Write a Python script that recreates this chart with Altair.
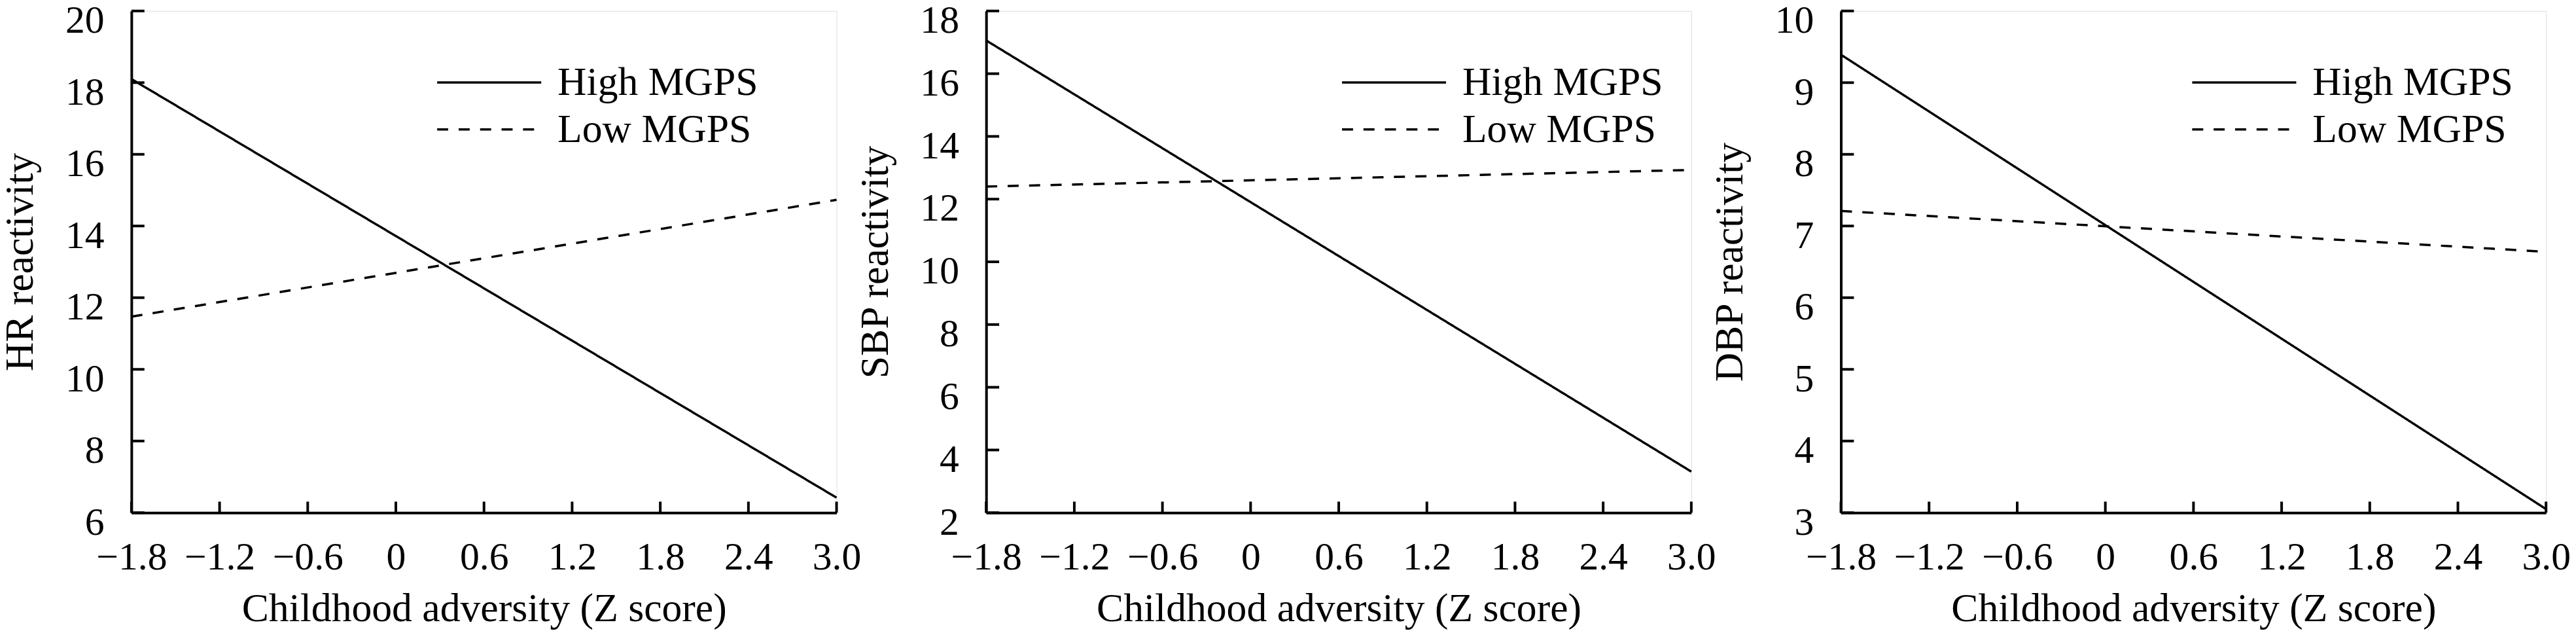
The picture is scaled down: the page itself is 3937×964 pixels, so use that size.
import altair as alt
import pandas as pd

FONT = "Liberation Serif"

# ---- data ----
groups = ["High MGPS", "Low MGPS"]
x_ends = [-1.8, 3.0]
x_ticks = [-1.8, -1.2, -0.6, 0, 0.6, 1.2, 1.8, 2.4, 3.0]
x_title = "Childhood adversity (Z score)"

hr_high = [18.1, 6.42]
hr_low = [11.47, 14.73]
hr_ticks = [6, 8, 10, 12, 14, 16, 18, 20]

sbp_high = [17.06, 3.31]
sbp_low = [12.4, 12.93]
sbp_ticks = [2, 4, 6, 8, 10, 12, 14, 16, 18]

dbp_high = [9.39, 3.05]
dbp_low = [7.21, 6.64]
dbp_ticks = [3, 4, 5, 6, 7, 8, 9, 10]

y_titles = ["HR reactivity", "SBP reactivity", "DBP reactivity"]

W, H = 1084, 771


def panel(high, low, yticks, ytitle, legend_x):
    df = pd.DataFrame({
        "x": x_ends + x_ends,
        "y": high + low,
        "g": [groups[0]] * 2 + [groups[1]] * 2,
    })
    xs = alt.Scale(domain=[x_ticks[0], x_ticks[-1]], nice=False, zero=False)
    ys = alt.Scale(domain=[yticks[0], yticks[-1]], nice=False, zero=False)
    xax = alt.Axis(values=x_ticks, title=x_title,
                   labelExpr="datum.value == 0 ? '0' : format(datum.value, '.1f')",
                   labelPadding=40, titlePadding=18)
    yax = alt.Axis(values=yticks, title=ytitle, format="d",
                   labelBaseline="top", labelOffset=-14,
                   labelPadding=42, titlePadding=37)

    lines = alt.Chart(df).mark_line(color="black", strokeWidth=3.5).encode(
        x=alt.X("x:Q", scale=xs, axis=xax),
        y=alt.Y("y:Q", scale=ys, axis=yax),
        strokeDash=alt.StrokeDash("g:N", scale=alt.Scale(domain=groups, range=[[1, 0], [17, 16]]),
                                  legend=alt.Legend(
                                      orient="none", legendX=legend_x, legendY=74,
                                      title=None, symbolType="stroke", symbolSize=25600,
                                      symbolStrokeWidth=3.5, symbolStrokeColor="black",
                                      labelFont=FONT, labelFontSize=62, labelColor="black",
                                      labelLimit=1000, labelOffset=23, clipHeight=72,
                                      rowPadding=0, padding=0)),
    )
    yt = alt.Chart(pd.DataFrame({"y": yticks})).mark_rule(color="black", strokeWidth=4).encode(
        y=alt.Y("y:Q", scale=ys, axis=yax), x=alt.value(0), x2=alt.value(20))
    xt = alt.Chart(pd.DataFrame({"x": x_ticks})).mark_rule(color="black", strokeWidth=4).encode(
        x=alt.X("x:Q", scale=xs, axis=xax), y=alt.value(H), y2=alt.value(H - 17))
    return alt.layer(lines, yt, xt).properties(width=W, height=H)


p1 = panel(hr_high, hr_low, hr_ticks, y_titles[0], 468)
p2 = panel(sbp_high, sbp_low, sbp_ticks, y_titles[1], 545)
p3 = panel(dbp_high, dbp_low, dbp_ticks, y_titles[2], 538)

chart = alt.hconcat(p1, p2, p3, spacing=230, bounds="flush").resolve_scale(
    strokeDash="independent"
).properties(
    padding={"left": -9, "top": -10, "right": 0, "bottom": 0},
    background="white",
).configure_view(strokeWidth=0).configure(font=FONT).configure_axis(
    domainColor="black", domainWidth=4, ticks=False, tickSize=0, grid=False,
    labelFont=FONT, labelFontSize=60, labelColor="black", labelFlush=False, labelOverlap=False,
    titleFont=FONT, titleFontSize=62, titleFontWeight="normal", titleColor="black",
)

chart.save("out.html", embed_options={"renderer": "svg", "actions": False})
